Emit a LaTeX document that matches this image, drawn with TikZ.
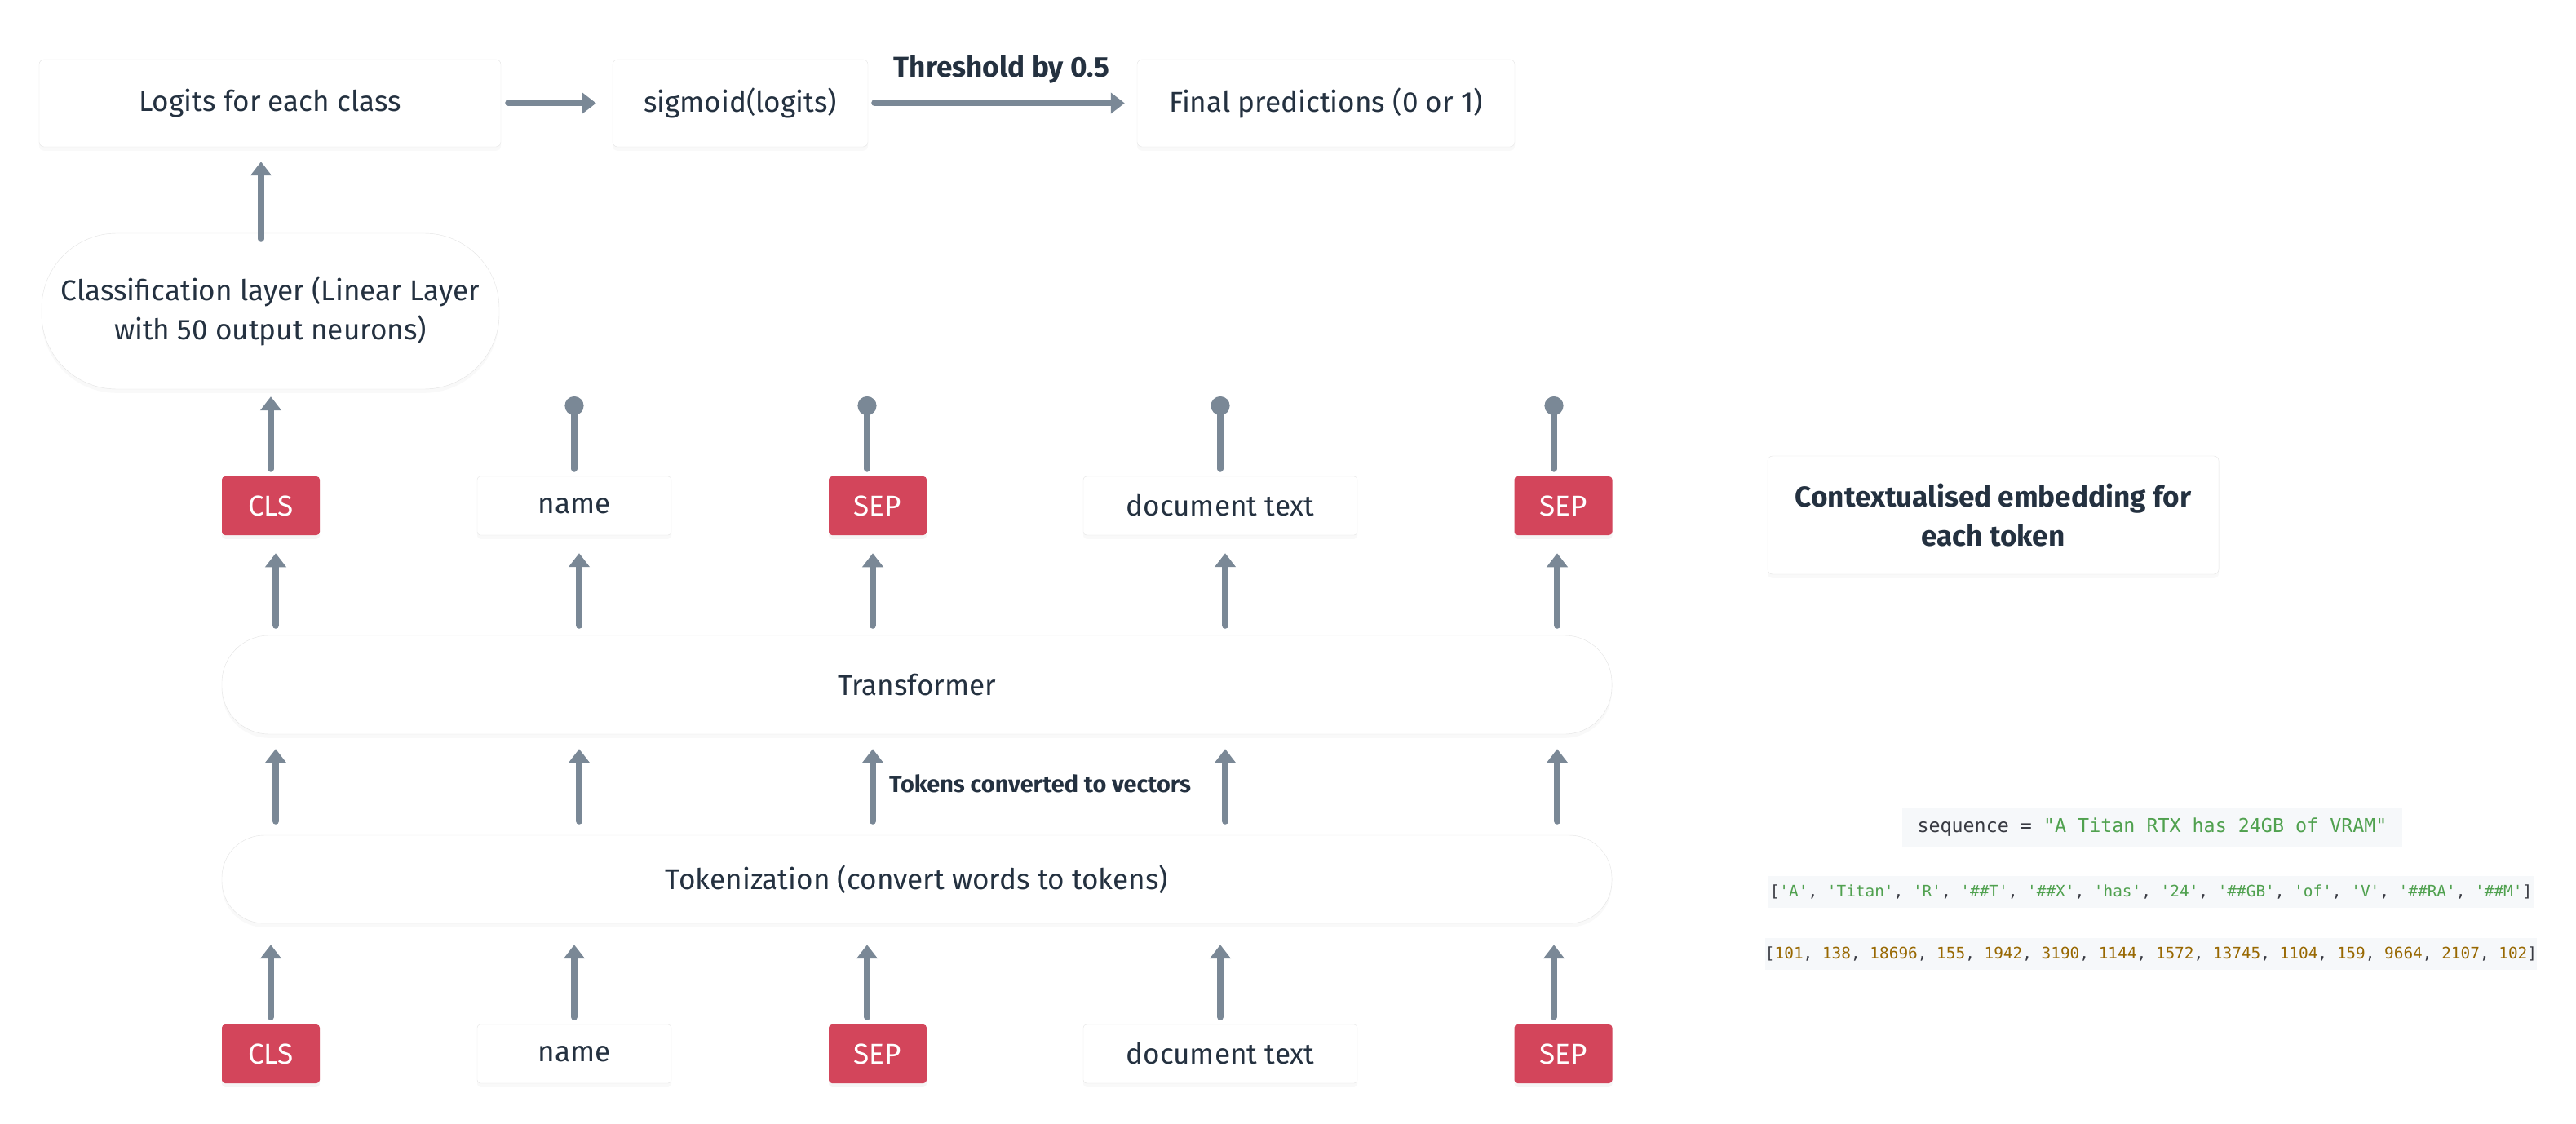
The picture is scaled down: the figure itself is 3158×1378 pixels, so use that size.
\documentclass[tikz,border=0pt]{standalone}
\usepackage{fontspec}
\setmainfont{Fira Sans}
\newfontfamily\codefont{DejaVu Sans Mono}[Ligatures=TeXOff]
\usetikzlibrary{arrows.meta,shadows,calc}
\definecolor{arrc}{HTML}{7A8896}
\definecolor{tokred}{HTML}{D3455B}
\definecolor{txt}{HTML}{243140}
\definecolor{boxline}{HTML}{E4E4E4}
\definecolor{codebg}{HTML}{F6F8FA}
\definecolor{cstr}{HTML}{50A14F}
\definecolor{cnum}{HTML}{986801}
\definecolor{cpunct}{HTML}{383A42}
\newcommand{\mainsz}{\fontsize{25}{34}\selectfont}
\newcommand{\boldsz}{\fontsize{25}{34}\selectfont\bfseries}
\newcommand{\smallbold}{\fontsize{20.5}{24}\selectfont\bfseries}
\begin{document}
\begin{tikzpicture}[x=0.25mm,y=-0.25mm,
  box/.style={rectangle, rounded corners=1.5mm, fill=white, draw=boxline,
    line width=0.3pt, text=txt, align=center, inner sep=0pt, font=\mainsz,
    drop shadow={opacity=0.05, shadow xshift=0mm, shadow yshift=-1.2mm}},
  tok/.style={rectangle, rounded corners=1mm, fill=tokred, text=white,
    minimum width=30mm, minimum height=18mm, inner sep=0pt, font=\mainsz,
    drop shadow={opacity=0.08, shadow xshift=0mm, shadow yshift=-1.2mm}},
  wtok/.style={box, rounded corners=1mm, minimum height=18mm},
  code/.style={rectangle, fill=codebg, inner sep=0pt, font=\codefont},
  lbl/.style={text=txt, inner sep=0pt},
  arr/.style={draw=arrc, line width=2mm, line cap=round,
    -{Triangle[length=4.25mm, width=6.25mm]}},
  lol/.style={draw=arrc, line width=2mm, line cap=round,
    -{Circle[length=5.75mm]}}
]
\useasboundingbox (0,0) rectangle (3158,1378);

% column coordinates
\coordinate (c1) at (332,0);
\coordinate (c2) at (704,0);
\coordinate (c3) at (1063,0);
\coordinate (c4) at (1496,0);
\coordinate (c5) at (1905,0);
\coordinate (t1) at (338,0);
\coordinate (t2) at (710,0);
\coordinate (t3) at (1070,0);
\coordinate (t4) at (1502,0);
\coordinate (t5) at (1909,0);
\coordinate (ca) at (320,0);

% top row
\node[box, minimum width=141.5mm, minimum height=26.75mm] (logits) at (331,126.5) {Logits for each class};
\node[box, minimum width=78.25mm, minimum height=26.75mm] (sigm) at (907.5,126.5) {sigmoid(logits)};
\node[box, minimum width=115.75mm, minimum height=26.75mm] (final) at (1625.5,126.5) {Final predictions (0 or 1)};
\node[lbl, font=\boldsz] (thr) at (1228,85) {Threshold by 0.5};

% classification
\node[box, rounded corners=23mm, minimum width=140.25mm, minimum height=47.75mm] (class) at (331.5,381.5)
  {Classification layer (Linear Layer\\with 50 output neurons)};

% token row 1
\node[tok] (clsA) at (332,620) {CLS};
\node[wtok, minimum width=59.5mm] (nameA) at (704,620) {name};
\node[tok] (sepA) at (1076,620) {SEP};
\node[wtok, minimum width=84mm] (docA) at (1496,620) {document text};
\node[tok] (sepB) at (1916.5,620) {SEP};

% transformer
\node[box, rounded corners=14.5mm, minimum width=426mm, minimum height=30.25mm] (trans) at (1124,839.5) {Transformer};

% tokenization
\node[box, rounded corners=13mm, minimum width=426mm, minimum height=27mm] (tokz) at (1124,1078) {Tokenization (convert words to tokens)};
\node[lbl, font=\smallbold] (conv) at (1275,961) {Tokens converted to vectors};

% token row 2
\node[tok] (clsC) at (332,1292) {CLS};
\node[wtok, minimum width=59.5mm] (nameC) at (704,1292) {name};
\node[tok] (sepC) at (1076,1292) {SEP};
\node[wtok, minimum width=84mm] (docC) at (1496,1292) {document text};
\node[tok] (sepD) at (1916.5,1292) {SEP};

% right side
\node[box, font=\boldsz, minimum width=138.25mm, minimum height=36.25mm] (ctx) at (2443.5,631.5)
  {Contextualised embedding for\\each token};
\node[code, minimum width=153.25mm, minimum height=12.25mm, font=\codefont\fontsize{16.6}{20}\selectfont] (seq) at (2638.5,1014.5)
  {\color{cpunct}sequence = \color{cstr}"A Titan RTX has 24GB of VRAM"};
\node[code, minimum width=235mm, minimum height=9.75mm, font=\codefont\fontsize{13.8}{16}\selectfont] (tlist) at (2637,1093.5)
  {\color{cpunct}[\color{cstr}'A'\color{cpunct}, \color{cstr}'Titan'\color{cpunct}, \color{cstr}'R'\color{cpunct}, \color{cstr}'\#\#T'\color{cpunct}, \color{cstr}'\#\#X'\color{cpunct}, \color{cstr}'has'\color{cpunct}, \color{cstr}'24'\color{cpunct}, \color{cstr}'\#\#GB'\color{cpunct}, \color{cstr}'of'\color{cpunct}, \color{cstr}'V'\color{cpunct}, \color{cstr}'\#\#RA'\color{cpunct}, \color{cstr}'\#\#M'\color{cpunct}]};
\node[code, minimum width=235mm, minimum height=9.75mm, font=\codefont\fontsize{13.8}{16}\selectfont] (ids) at (2637,1169.5)
  {\color{cpunct}[\color{cnum}101\color{cpunct}, \color{cnum}138\color{cpunct}, \color{cnum}18696\color{cpunct}, \color{cnum}155\color{cpunct}, \color{cnum}1942\color{cpunct}, \color{cnum}3190\color{cpunct}, \color{cnum}1144\color{cpunct}, \color{cnum}1572\color{cpunct}, \color{cnum}13745\color{cpunct}, \color{cnum}1104\color{cpunct}, \color{cnum}159\color{cpunct}, \color{cnum}9664\color{cpunct}, \color{cnum}2107\color{cpunct}, \color{cnum}102\color{cpunct}]};

% connectors: top
\draw[arr, shorten <=2.25mm, shorten >=5mm] (logits.east) -- (sigm.west);
\draw[arr, shorten <=2mm, shorten >=3.75mm] (sigm.east) -- (final.west);
\draw[arr, shorten <=-1.75mm, shorten >=4.5mm] (class.north -| ca) -- (logits.south -| ca);

% token row 1 to classification / lollipops
\draw[arr, shorten <=2.25mm, shorten >=2.25mm] (clsA.north -| c1) -- (class.south -| c1);
\coordinate (d2) at (704,486);
\coordinate (d3) at (1063,486);
\coordinate (d4) at (1496,486);
\coordinate (d5) at (1905,486);
\draw[lol, shorten <=2.25mm] (nameA.north -| c2) -- (d2);
\draw[lol, shorten <=2.25mm] (sepA.north -| c3) -- (d3);
\draw[lol, shorten <=2.25mm] (docA.north -| c4) -- (d4);
\draw[lol, shorten <=2.25mm] (sepB.north -| c5) -- (d5);

% transformer to token row 1
\draw[arr, shorten <=3mm, shorten >=5.5mm] (trans.north -| t1) -- (clsA.south -| t1);
\draw[arr, shorten <=3mm, shorten >=5.5mm] (trans.north -| t2) -- (nameA.south -| t2);
\draw[arr, shorten <=3mm, shorten >=5.5mm] (trans.north -| t3) -- (sepA.south -| t3);
\draw[arr, shorten <=3mm, shorten >=5.5mm] (trans.north -| t4) -- (docA.south -| t4);
\draw[arr, shorten <=3mm, shorten >=5.5mm] (trans.north -| t5) -- (sepB.south -| t5);

% tokenization to transformer
\draw[arr, shorten <=4.25mm, shorten >=4.5mm] (tokz.north -| t1) -- (trans.south -| t1);
\draw[arr, shorten <=4.25mm, shorten >=4.5mm] (tokz.north -| t2) -- (trans.south -| t2);
\draw[arr, shorten <=4.25mm, shorten >=4.5mm] (tokz.north -| t3) -- (trans.south -| t3);
\draw[arr, shorten <=4.25mm, shorten >=4.5mm] (tokz.north -| t4) -- (trans.south -| t4);
\draw[arr, shorten <=4.25mm, shorten >=4.5mm] (tokz.north -| t5) -- (trans.south -| t5);

% token row 2 to tokenization
\draw[arr, shorten <=2.25mm, shorten >=6.5mm] (clsC.north -| c1) -- (tokz.south -| c1);
\draw[arr, shorten <=2.25mm, shorten >=6.5mm] (nameC.north -| c2) -- (tokz.south -| c2);
\draw[arr, shorten <=2.25mm, shorten >=6.5mm] (sepC.north -| c3) -- (tokz.south -| c3);
\draw[arr, shorten <=2.25mm, shorten >=6.5mm] (docC.north -| c4) -- (tokz.south -| c4);
\draw[arr, shorten <=2.25mm, shorten >=6.5mm] (sepD.north -| c5) -- (tokz.south -| c5);
\end{tikzpicture}
\end{document}
